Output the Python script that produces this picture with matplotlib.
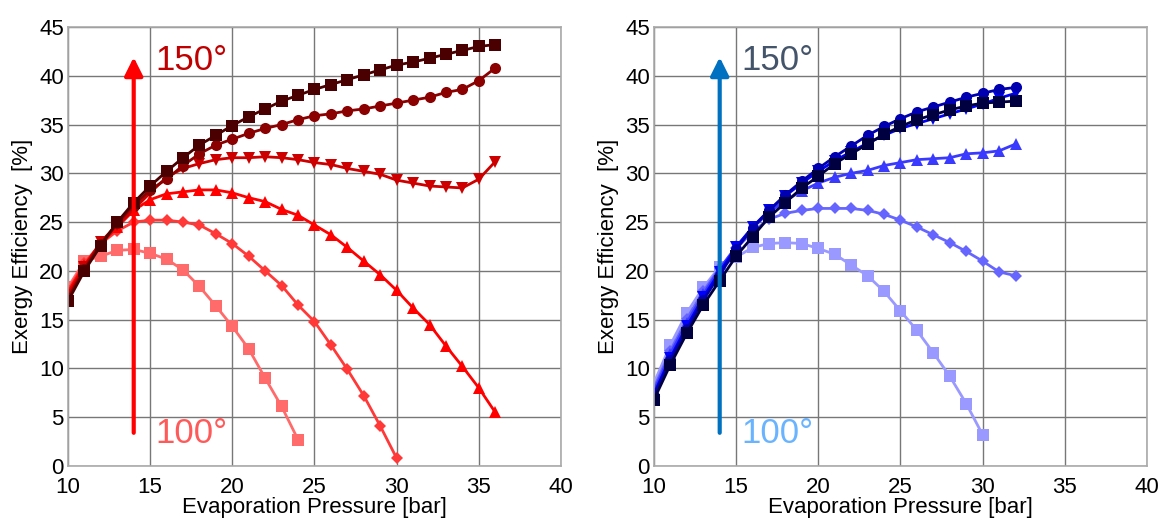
"""
Exergy efficiency vs evaporation pressure for two working fluids,
source temperature from 100 to 150 degrees.
"""

import matplotlib
matplotlib.use("Agg")
import matplotlib.pyplot as plt

plt.rcParams["font.family"] = ["Liberation Sans", "DejaVu Sans"]

# --- left panel (red family) ---
left_p = list(range(10, 37))
left_sq_dark = [16.9, 20.0, 22.6, 25.0, 27.0, 28.7, 30.2, 31.6, 32.9, 33.9, 34.9,
                35.8, 36.6, 37.4, 38.0, 38.6, 39.1, 39.6, 40.1, 40.6, 41.1, 41.4,
                41.8, 42.2, 42.6, 43.0, 43.2]
left_circle = [17.2, 20.2, 22.8, 24.9, 26.7, 28.3, 29.4, 30.8, 32.0, 32.9, 33.5,
               34.1, 34.6, 35.0, 35.5, 35.9, 36.1, 36.4, 36.6, 36.9, 37.2, 37.5,
               37.8, 38.3, 38.6, 39.5, 40.8]
left_tri_down = [17.5, 20.4, 23.0, 24.7, 26.3, 28.0, 29.6, 30.5, 31.0, 31.4, 31.6,
                 31.6, 31.7, 31.6, 31.4, 31.1, 30.9, 30.5, 30.2, 29.9, 29.3, 29.0,
                 28.7, 28.6, 28.5, 29.4, 31.2]
left_tri_up = [17.8, 20.6, 22.8, 24.5, 26.2, 27.3, 27.9, 28.1, 28.3, 28.3, 28.0,
               27.5, 27.1, 26.3, 25.7, 24.7, 23.7, 22.4, 21.0, 19.6, 18.0, 16.2,
               14.5, 12.3, 10.2, 8.0, 5.5]
left_diamond = [18.0, 20.8, 22.8, 24.1, 25.0, 25.2, 25.2, 25.0, 24.7, 23.8, 22.8,
                21.5, 20.0, 18.5, 16.5, 14.8, 12.4, 9.9, 7.2, 4.1, 0.8]
left_sq_light = [18.3, 21.0, 21.5, 22.1, 22.2, 21.8, 21.2, 20.1, 18.4, 16.4, 14.3,
                 12.0, 9.0, 6.1, 2.7]

# --- right panel (blue family) ---
right_p = list(range(10, 33))
right_sq_dark = [6.8, 10.4, 13.6, 16.5, 19.0, 21.5, 23.5, 25.5, 27.0, 28.5, 29.7,
                 31.0, 32.0, 33.0, 34.0, 34.8, 35.5, 36.0, 36.5, 36.9, 37.2, 37.3,
                 37.4]
right_circle = [7.2, 10.9, 14.0, 17.0, 19.6, 22.2, 24.4, 26.2, 27.8, 29.2, 30.5,
                31.7, 32.8, 33.9, 34.8, 35.6, 36.3, 36.8, 37.3, 37.8, 38.2, 38.6,
                38.8]
right_tri_down = [7.4, 11.1, 14.3, 17.3, 19.9, 22.4, 24.5, 26.2, 27.7, 29.0, 30.2,
                  31.3, 32.2, 33.1, 33.9, 34.6, 35.1, 35.6, 36.1, 36.6, 37.1, 37.7,
                  38.2]
right_tri_up = [7.7, 11.5, 14.7, 17.6, 20.2, 22.5, 24.4, 26.0, 27.2, 28.2, 29.0,
                29.6, 30.0, 30.3, 30.8, 31.1, 31.4, 31.5, 31.6, 32.0, 32.1, 32.3,
                33.0]
right_diamond = [8.0, 11.8, 15.1, 17.9, 20.3, 22.3, 24.0, 25.3, 25.9, 26.2, 26.4,
                 26.4, 26.4, 26.2, 25.8, 25.2, 24.5, 23.7, 22.9, 22.0, 21.0, 19.9,
                 19.5]
right_sq_light = [8.5, 12.4, 15.7, 18.3, 20.4, 21.4, 22.4, 22.8, 22.9, 22.8, 22.3,
                  21.7, 20.6, 19.5, 17.9, 15.9, 13.9, 11.6, 9.2, 6.4, 3.2]

x_ticks = [10, 15, 20, 25, 30, 35, 40]
y_ticks = [0, 5, 10, 15, 20, 25, 30, 35, 40, 45]

left_series = [
    (left_sq_dark, "s", "#4a0000"),
    (left_circle, "o", "#8b0000"),
    (left_tri_down, "v", "#cc0000"),
    (left_tri_up, "^", "#ff0000"),
    (left_diamond, "D", "#ff3838"),
    (left_sq_light, "s", "#ff6b6b"),
]
right_series = [
    (right_sq_dark, "s", "#000040"),
    (right_circle, "o", "#0000b0"),
    (right_tri_down, "v", "#0000ff"),
    (right_tri_up, "^", "#3a3aff"),
    (right_diamond, "D", "#6666ff"),
    (right_sq_light, "s", "#9999ff"),
]


def draw_panel(ax, p, series, arrow_color, hi_color, lo_color):
    for vals, mk, col in reversed(series):
        ms = 6.5 if mk == "D" else 8
        ax.plot(p[:len(vals)], vals, color=col, marker=mk, markersize=ms,
                linewidth=2, markeredgewidth=0)

    # temperature arrow
    ax.annotate("", xy=(14, 41.9), xytext=(14, 3.4),
                arrowprops=dict(arrowstyle="-|>,head_length=1.1,head_width=0.55",
                                color=arrow_color, lw=3, shrinkA=0, shrinkB=0))
    ax.text(15.3, 41.6, "150°", color=hi_color, fontsize=25, va="center")
    ax.text(15.3, 3.3, "100°", color=lo_color, fontsize=25, va="center")

    ax.set_xlim(10, 40)
    ax.set_ylim(0, 45)
    ax.set_xticks(x_ticks)
    ax.set_yticks(y_ticks)
    ax.grid(True, color="#777777", linewidth=1)
    ax.set_axisbelow(True)
    for sp in ax.spines.values():
        sp.set_color("#aaaaaa")
        sp.set_linewidth(1.2)
    ax.tick_params(length=0, labelsize=16)
    ax.tick_params(axis="x", pad=8)
    ax.tick_params(axis="y", pad=3)
    ax.set_xlabel("Evaporation Pressure [bar]", fontsize=16, labelpad=-1)
    ax.set_ylabel("Exergy Efficiency  [%]", fontsize=16, labelpad=4)


fig = plt.figure(figsize=(11.68, 5.25), dpi=100)
ax1 = fig.add_axes([0.0582, 0.1124, 0.4221, 0.8362])
ax2 = fig.add_axes([0.5599, 0.1124, 0.4221, 0.8362])

draw_panel(ax1, left_p, left_series, "#ff0000", "#c00000", "#ff5a5a")
draw_panel(ax2, right_p, right_series, "#0070c0", "#44546a", "#6ab4ff")

fig.savefig("out.png", dpi=100)
